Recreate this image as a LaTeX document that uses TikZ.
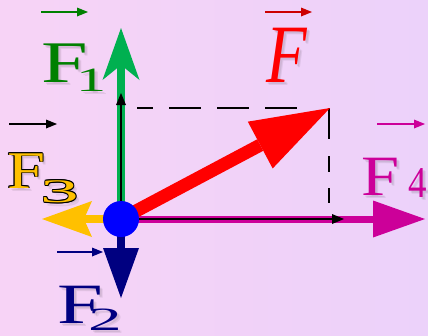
\documentclass[tikz,border=0pt]{standalone}
\usepackage{fontspec}
\setmainfont{Liberation Serif}
\usepackage{graphicx}
\usetikzlibrary{arrows.meta}
\definecolor{bgA}{RGB}{247,211,246}
\definecolor{bgB}{RGB}{236,210,250}
\definecolor{cGreen}{RGB}{0,176,80}
\definecolor{cGreenT}{RGB}{0,128,0}
\definecolor{cYel}{RGB}{255,192,0}
\definecolor{cNavy}{RGB}{0,0,128}
\definecolor{cMag}{RGB}{204,0,153}
\definecolor{cRedD}{RGB}{204,0,0}
\newcommand\fsx[3]{\scalebox{#1}[1]{\fontsize{#2}{#2}\selectfont #3}}
\newcommand\lab[5]{%
  \foreach \dx/\dy [count=\k] in {2/2,3.5/3.5}{%
    \node[lbl,text=black,text opacity=0.07] (#1s\k) at (#2+\dx,#3+\dy) {#4};}
  \node[lbl,text=#5] (#1) at (#2,#3) {#4};}
\begin{document}
\begin{tikzpicture}[x=1pt,y=-1pt,
  lbl/.style={inner sep=0pt, anchor=base west},
  vec/.style={line width=2pt, -{Triangle[length=11pt,width=9pt,line width=0pt]}},
  thin/.style={line width=2pt, black, -{Triangle[length=12pt,width=10pt,line width=0pt]}},
  dashline/.style={line width=2pt, black}]
\useasboundingbox (0,0) rectangle (428,335);
\shade[left color=bgA, right color=bgB] (0,0) rectangle (428,335);
% points
\coordinate (O) at (121,219);
\coordinate (t1) at (121,28);
\coordinate (t2) at (121,298);
\coordinate (t3) at (42,219);
\coordinate (t4) at (425,219);
\coordinate (tF) at (330,108);
\coordinate (b1) at (121,93);
\coordinate (b4) at (344,219);
\coordinate (h0) at (137,108);
\coordinate (h1) at (298,108);
\coordinate (v0) at (329,108);
\coordinate (v1) at (329,203);
% dashed projections
\draw[dashline, dash pattern=on 16pt off 16pt on 32pt off 16pt on 32pt off 16pt on 32pt off 60pt] (h0) -- (h1);
\draw[dashline, dash pattern=on 31pt off 17pt on 16pt off 16pt on 16pt off 40pt] (v0) -- (v1);
% force arrows
\draw[line width=7pt, cMag, -{Triangle[length=52pt,width=37pt,line width=0pt]}] (O) -- (t4);
\draw[line width=8pt, cGreen, -{Stealth[length=52pt,width=37pt,inset=15pt,line width=0pt]}] (O) -- (t1);
\draw[line width=8pt, cYel, -{Stealth[length=50pt,width=36pt,inset=8pt,line width=0pt]}] (O) -- (t3);
\draw[line width=8pt, cNavy, -{Triangle[length=50pt,width=36pt,line width=0pt]}] (O) -- (t2);
\draw[thin] (O) -- (b1);
\draw[thin] (O) -- (b4);
\draw[line width=13pt, red, -{Triangle[length=79pt,width=53pt,line width=0pt]}] (O) -- (tF);
\node[circle, fill=blue, minimum size=36pt, inner sep=0pt] (dot) at (O) {};
% vector arrows above labels
\coordinate (a1s) at (41,12);  \coordinate (a1e) at (88,12);
\coordinate (aFs) at (265,12); \coordinate (aFe) at (312,12);
\coordinate (a3s) at (9,124);  \coordinate (a3e) at (57,124);
\coordinate (a2s) at (57,252); \coordinate (a2e) at (103,252);
\coordinate (a4s) at (377,124); \coordinate (a4e) at (425,124);
\draw[vec, cGreenT] (a1s) -- (a1e);
\draw[vec, cRedD] (aFs) -- (aFe);
\draw[vec, black] (a3s) -- (a3e);
\draw[vec, cNavy] (a2s) -- (a2e);
\draw[vec, cMag] (a4s) -- (a4e);
% labels
\lab{F1}{41}{82}{\fsx{1.42}{59}{F}}{cGreenT}
\lab{F1i}{76}{91}{\fsx{1.77}{34}{1}}{cGreenT}
\lab{FF}{266}{82}{\fsx{0.8}{83}{\itshape F}}{red}
\lab{F2}{57}{323}{\fsx{1.44}{57}{F}}{cNavy}
\lab{F2i}{88}{330}{\fsx{2.07}{32.5}{2}}{cNavy}
\lab{F4}{361}{195}{\fsx{1.2}{57}{F}}{cMag}
\lab{F4i}{408}{197}{\fsx{0.84}{44}{4}}{cMag}
\lab{F3}{7}{188}{\fsx{1.29}{53}{F}}{black}
\lab{F3i}{40}{202.5}{\fsx{2.34}{33}{3}}{black}
\foreach \dx/\dy [count=\k] in {0.9/0,-0.9/0,0/0.9,0/-0.9,0.65/0.65,-0.65/0.65,0.65/-0.65,-0.65/-0.65}{%
  \node[lbl,text=black] (F3o\k) at (7+\dx,188+\dy) {\fsx{1.29}{53}{F}};
  \node[lbl,text=black] (F3io\k) at (40+\dx,202.5+\dy) {\fsx{2.34}{33}{3}};}
\node[lbl,text=cYel] (F3y) at (7,188) {\fsx{1.29}{53}{F}};
\node[lbl,text=cYel] (F3iy) at (40,202.5) {\fsx{2.34}{33}{3}};
\end{tikzpicture}
\end{document}
